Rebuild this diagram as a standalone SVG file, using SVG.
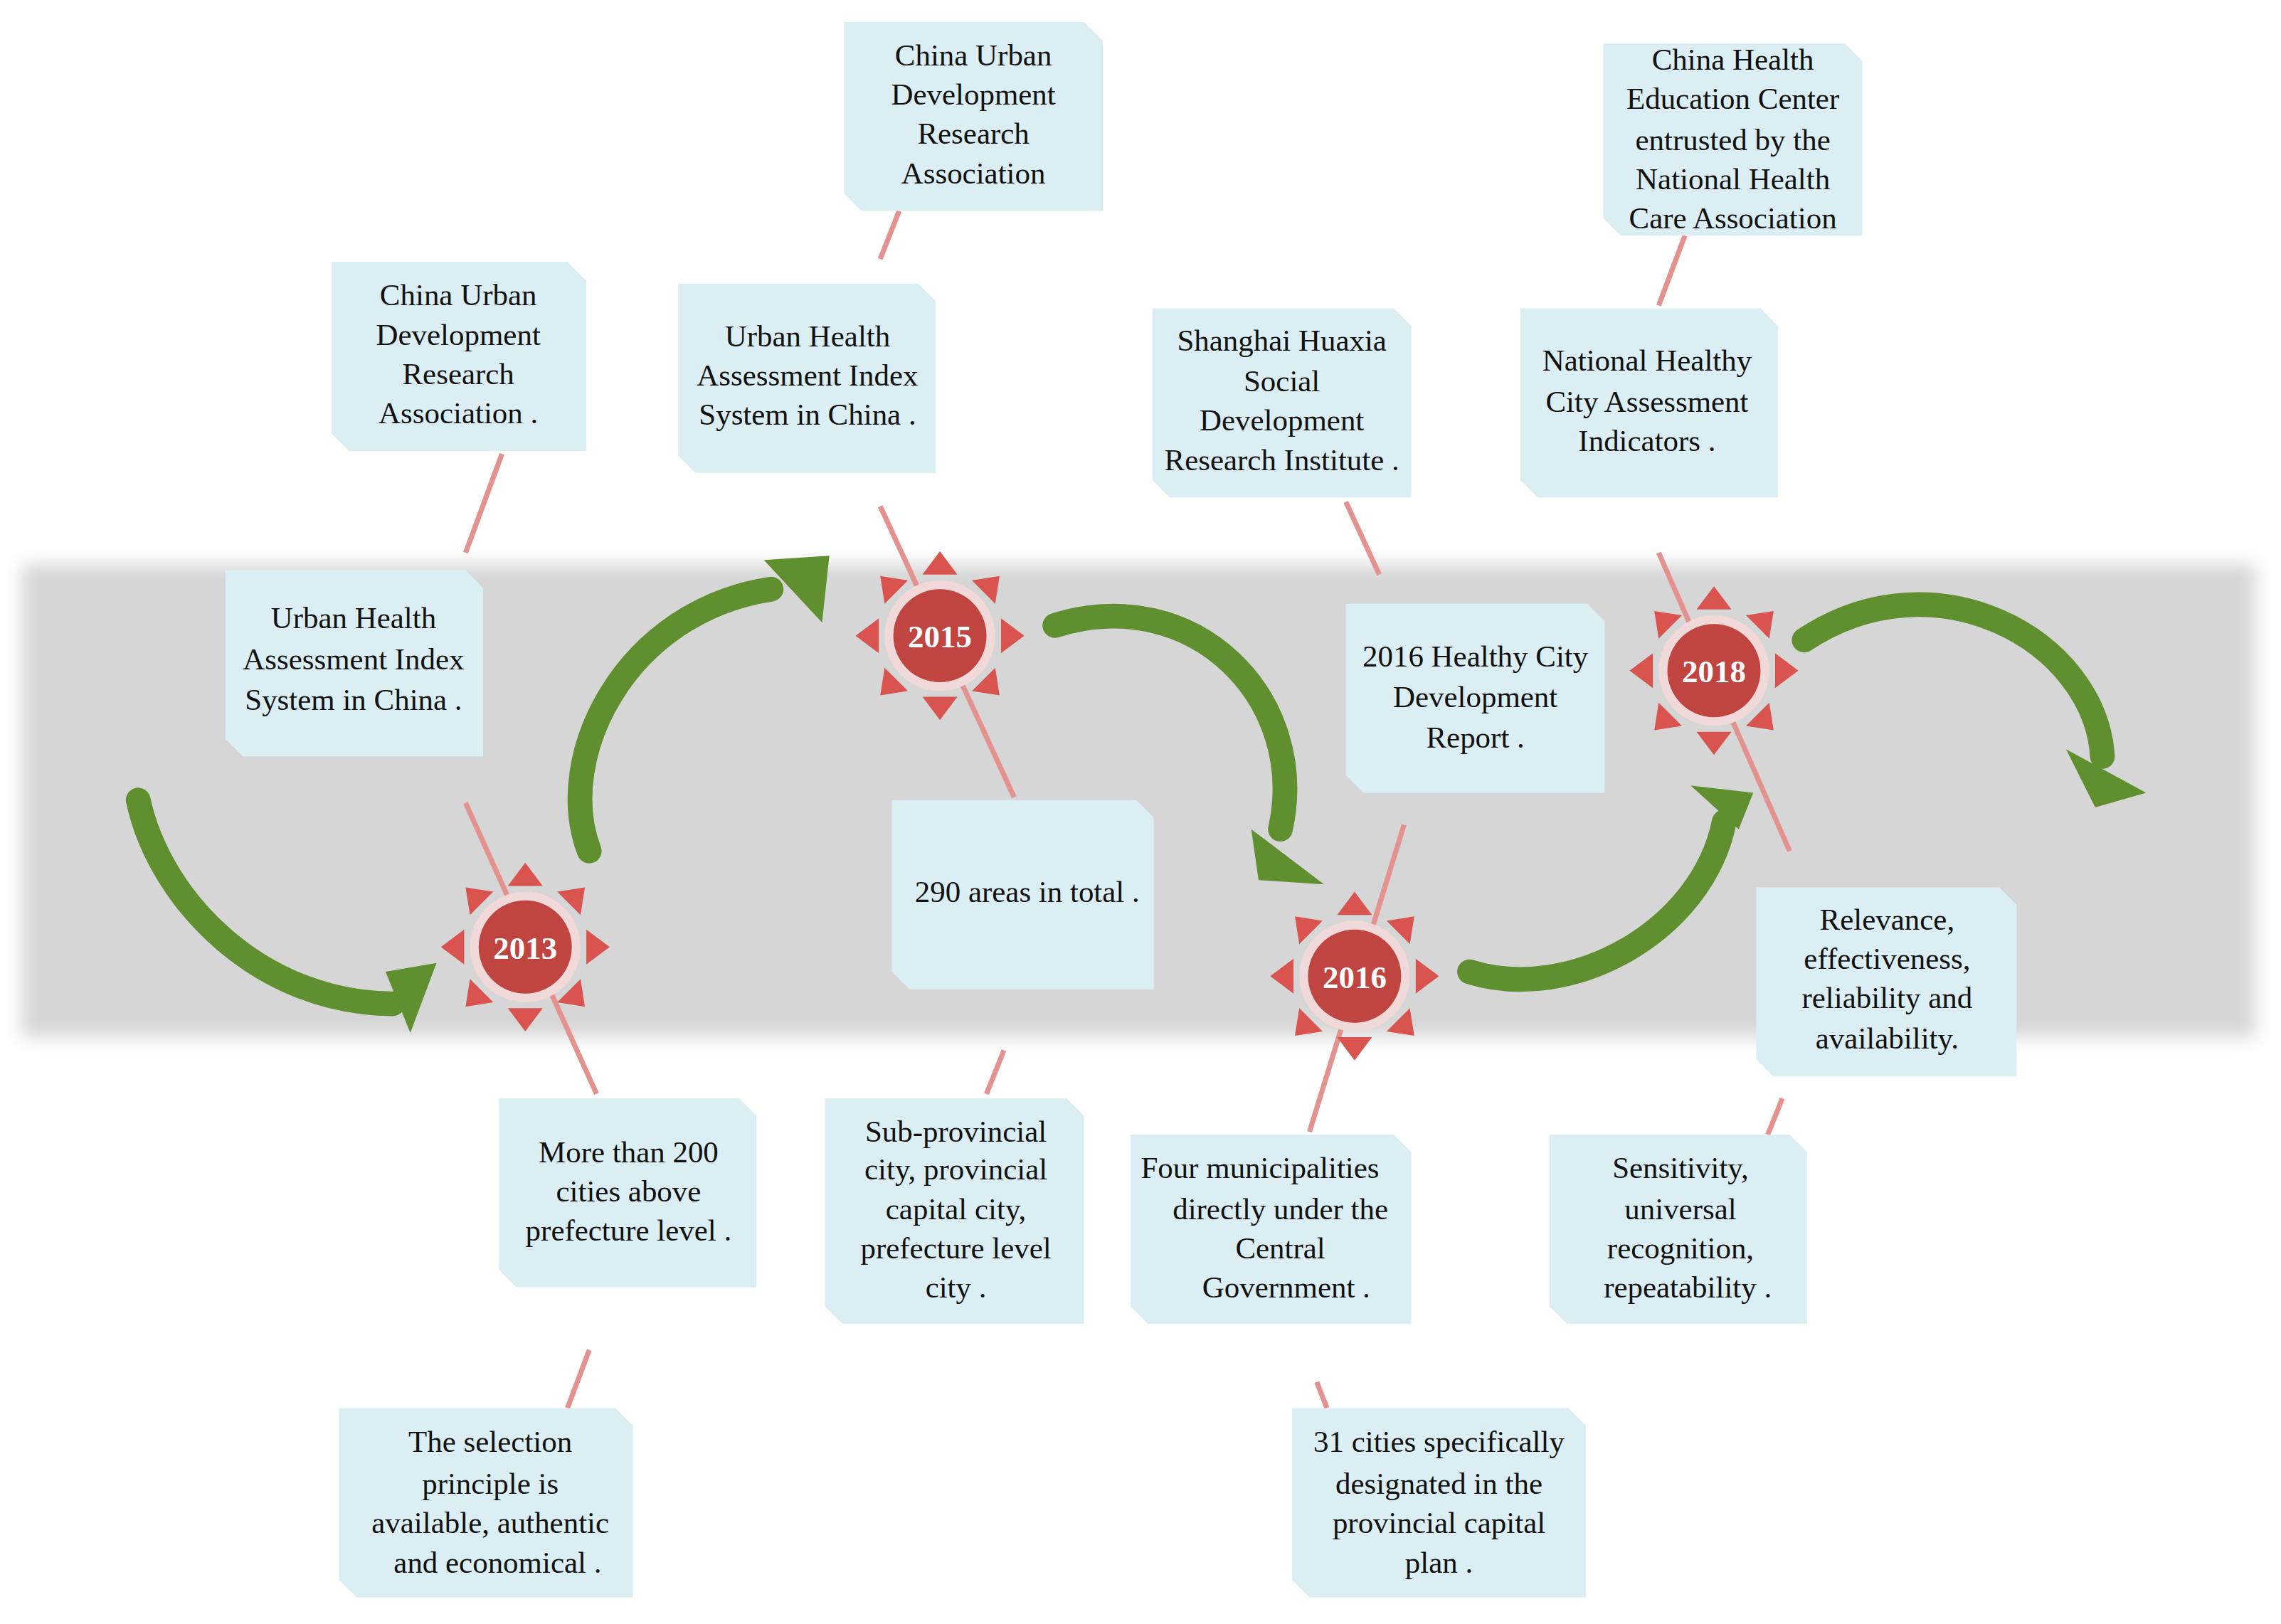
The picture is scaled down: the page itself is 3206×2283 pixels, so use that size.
<svg xmlns="http://www.w3.org/2000/svg" width="3206" height="2283" viewBox="0 0 3206 2283">
<style>
.box{fill:#dbeef4}
.t{font-family:"Liberation Serif",serif;font-size:21px;fill:#111;text-anchor:middle}
.ln{stroke:#e3928f;stroke-width:3.5;fill:none}
.arr{fill:none;stroke:#5f8f2e;stroke-width:17;stroke-linecap:round}
.ah{fill:#5f8f2e}
.yr{font-family:"Liberation Serif",serif;font-size:22px;font-weight:bold;fill:#fff;text-anchor:middle}
</style>
<defs>
<filter id="bl" x="-5%" y="-20%" width="110%" height="140%"><feGaussianBlur stdDeviation="6"/></filter>
<g id="sun">
<g fill="#d9534f">
<polygon points="0,-58 -12,-42 12,-42"/><polygon points="0,58 -12,42 12,42"/>
<polygon points="-58,0 -42,-12 -42,12"/><polygon points="58,0 42,-12 42,12"/>
<polygon points="-41,-41 -38,-22 -22,-38"/><polygon points="41,-41 38,-22 22,-38"/>
<polygon points="-41,41 -38,22 -22,38"/><polygon points="41,41 38,22 22,38"/>
</g>
<circle r="38" fill="#f0d9d8"/><circle r="32" fill="#c0443f"/>
</g>
</defs>
<rect width="3206" height="2283" fill="#fff"/>
<g transform="scale(2.045)">
<rect x="15" y="388" width="1535" height="325" fill="#d6d6d6" filter="url(#bl)"/>
<g id="connectors">
<line class="ln" x1="320" y1="380" x2="345" y2="312"/>
<line class="ln" x1="320" y1="552" x2="410" y2="752"/>
<line class="ln" x1="605" y1="348" x2="697" y2="548"/>
<line class="ln" x1="605" y1="178" x2="618" y2="145"/>
<line class="ln" x1="690" y1="722" x2="678" y2="752"/>
<line class="ln" x1="925" y1="345" x2="948" y2="395"/>
<line class="ln" x1="965" y1="567" x2="900" y2="778"/>
<line class="ln" x1="905" y1="950" x2="912" y2="968"/>
<line class="ln" x1="1140" y1="380" x2="1230" y2="585"/>
<line class="ln" x1="1140" y1="210" x2="1158" y2="162"/>
<line class="ln" x1="1225" y1="755" x2="1215" y2="780"/>
<line class="ln" x1="405" y1="928" x2="390" y2="968"/>
<path class="arr" d="M95,550 C110,620 180,690 270,690"/><polygon class="ah" points="265,668 300,662 282,710"/>
<path class="arr" d="M405,585 C380,520 430,420 530,405"/><polygon class="ah" points="525,385 570,382 565,428"/>
<path class="arr" d="M725,430 C820,400 900,480 880,570"/><polygon class="ah" points="860,570 910,608 865,605"/>
<path class="arr" d="M1010,668 C1080,690 1170,640 1185,565"/><polygon class="ah" points="1162,540 1205,545 1195,570"/>
<path class="arr" d="M1240,440 C1330,380 1440,440 1445,520"/><polygon class="ah" points="1420,515 1475,545 1440,555"/>
</g>
<g id="n2013" transform="translate(361,651)"><use href="#sun"/><text class="yr" y="8">2013</text></g>
<g id="n2015" transform="translate(646,437)"><use href="#sun"/><text class="yr" y="8">2015</text></g>
<g id="n2016" transform="translate(931,671)"><use href="#sun"/><text class="yr" y="8">2016</text></g>
<g id="n2018" transform="translate(1178,461)"><use href="#sun"/><text class="yr" y="8">2018</text></g>
<g id="b1"><path class="box" d="M228,180H390L403,193V310H240L228,298Z"/><text class="t" x="315"><tspan x="315" y="210">China Urban</tspan><tspan x="315" y="237">Development</tspan><tspan x="315" y="264">Research</tspan><tspan x="315" y="291">Association .</tspan></text></g>
<g id="b2"><path class="box" d="M155,392H320L332,404V520H167L155,508Z"/><text class="t"><tspan x="243" y="432">Urban Health</tspan><tspan x="243" y="460">Assessment Index</tspan><tspan x="243" y="488">System in China .</tspan></text></g>
<g id="b3"><path class="box" d="M580,15H745L758,28V145H592L580,133Z"/><text class="t"><tspan x="669" y="45">China Urban</tspan><tspan x="669" y="72">Development</tspan><tspan x="669" y="99">Research</tspan><tspan x="669" y="126">Association</tspan></text></g>
<g id="b4"><path class="box" d="M466,195H631L643,207V325H478L466,313Z"/><text class="t"><tspan x="555" y="238">Urban Health</tspan><tspan x="555" y="265">Assessment Index</tspan><tspan x="555" y="292">System in China .</tspan></text></g>
<g id="b5"><path class="box" d="M613,550H781L793,562V680H625L613,668Z"/><text class="t" x="706" y="620">290 areas in total .</text></g>
<g id="b6"><path class="box" d="M792,212H958L970,224V342H804L792,330Z"/><text class="t"><tspan x="881" y="241">Shanghai Huaxia</tspan><tspan x="881" y="269">Social</tspan><tspan x="881" y="296">Development</tspan><tspan x="881" y="323">Research Institute .</tspan></text></g>
<g id="b7"><path class="box" d="M925,415H1091L1103,427V545H937L925,533Z"/><text class="t"><tspan x="1014" y="458">2016 Healthy City</tspan><tspan x="1014" y="486">Development</tspan><tspan x="1014" y="514">Report .</tspan></text></g>
<g id="b8"><path class="box" d="M1102,30H1268L1280,42V162H1114L1102,150Z"/><text class="t"><tspan x="1191" y="48">China Health</tspan><tspan x="1191" y="75">Education Center</tspan><tspan x="1191" y="103">entrusted by the</tspan><tspan x="1191" y="130">National Health</tspan><tspan x="1191" y="157">Care Association</tspan></text></g>
<g id="b9"><path class="box" d="M1045,212H1210L1222,224V342H1057L1045,330Z"/><text class="t"><tspan x="1132" y="255">National Healthy</tspan><tspan x="1132" y="283">City Assessment</tspan><tspan x="1132" y="310">Indicators .</tspan></text></g>
<g id="b10"><path class="box" d="M1207,610H1374L1386,622V740H1219L1207,728Z"/><text class="t"><tspan x="1297" y="639">Relevance,</tspan><tspan x="1297" y="666">effectiveness,</tspan><tspan x="1297" y="693">reliability and</tspan><tspan x="1297" y="721">availability.</tspan></text></g>
<g id="b11"><path class="box" d="M343,755H508L520,767V885H355L343,873Z"/><text class="t"><tspan x="432" y="799">More than 200</tspan><tspan x="432" y="826">cities above</tspan><tspan x="432" y="853">prefecture level .</tspan></text></g>
<g id="b12"><path class="box" d="M567,755H733L745,767V910H579L567,898Z"/><text class="t"><tspan x="657" y="785">Sub-provincial</tspan><tspan x="657" y="811">city, provincial</tspan><tspan x="657" y="838">capital city,</tspan><tspan x="657" y="865">prefecture level</tspan><tspan x="657" y="892">city .</tspan></text></g>
<g id="b13"><path class="box" d="M777,780H958L970,792V910H789L777,898Z"/><text class="t"><tspan x="866" y="810">Four municipalities</tspan><tspan x="880" y="838">directly under the</tspan><tspan x="880" y="865">Central</tspan><tspan x="884" y="892">Government .</tspan></text></g>
<g id="b14"><path class="box" d="M1065,780H1230L1242,792V910H1077L1065,898Z"/><text class="t"><tspan x="1155" y="810">Sensitivity,</tspan><tspan x="1155" y="838">universal</tspan><tspan x="1155" y="865">recognition,</tspan><tspan x="1160" y="892">repeatability .</tspan></text></g>
<g id="b15"><path class="box" d="M233,968H423L435,980V1098H245L233,1086Z"/><text class="t"><tspan x="337" y="998">The selection</tspan><tspan x="337" y="1027">principle is</tspan><tspan x="337" y="1054">available, authentic</tspan><tspan x="342" y="1081">and economical .</tspan></text></g>
<g id="b16"><path class="box" d="M888,968H1078L1090,980V1098H900L888,1086Z"/><text class="t"><tspan x="989" y="998">31 cities specifically</tspan><tspan x="989" y="1027">designated in the</tspan><tspan x="989" y="1054">provincial capital</tspan><tspan x="989" y="1081">plan .</tspan></text></g>
</g>
</svg>
